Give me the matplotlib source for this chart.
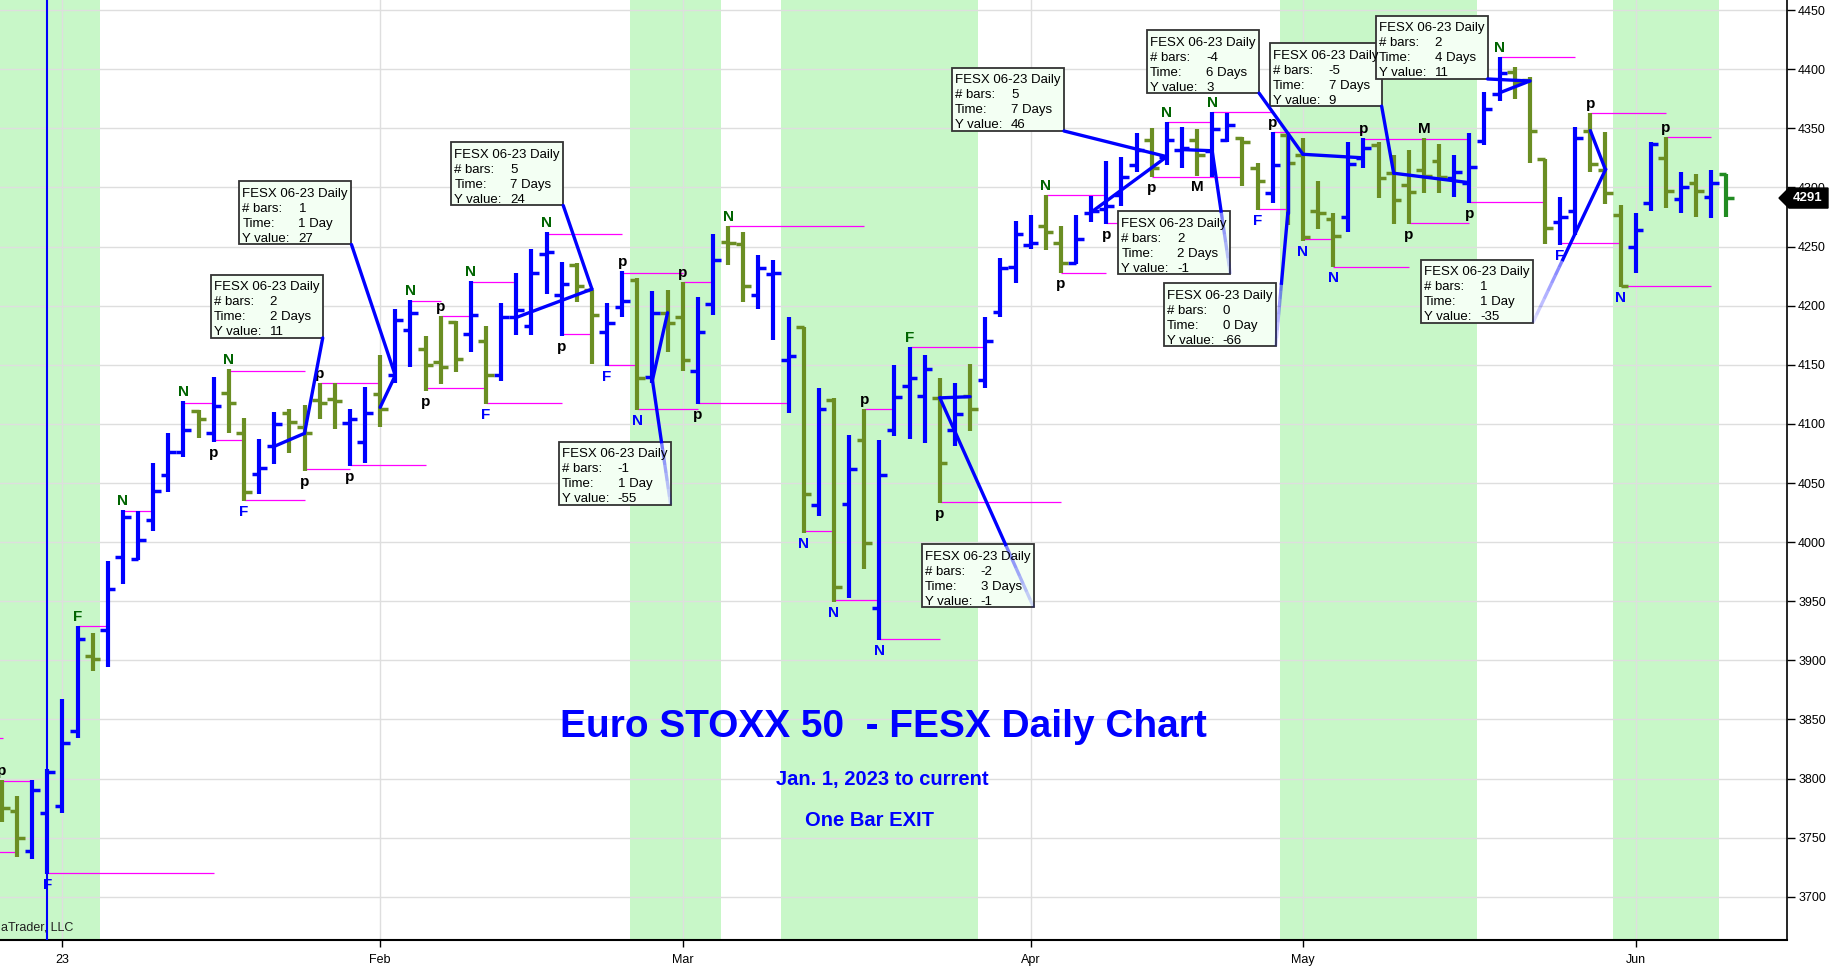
import matplotlib
matplotlib.use('Agg')
import matplotlib.pyplot as plt
import matplotlib.transforms as mtransforms
from matplotlib.patches import Rectangle, Polygon
import numpy as np

plt.rcParams['font.family'] = ['Liberation Sans', 'DejaVu Sans']

# daily OHLC, FESX 06-23 (last days of Dec 2022 through mid June 2023)
opens = [3790, 3773, 3739, 3771, 3777, 3840, 3904, 3926, 3987, 3986,
         4019, 4057, 4076, 4111, 4092, 4126, 4092, 4058, 4081, 4109,
         4097, 4120, 4121, 4101, 4085, 4125, 4141, 4179, 4163, 4152,
         4186, 4176, 4170, 4141, 4190, 4183, 4244, 4209, 4234, 4213,
         4178, 4199, 4222, 4140, 4194, 4190, 4145, 4201, 4254, 4252,
         4209, 4227, 4154, 4182, 4031, 4120, 4032, 4086, 3944, 4095,
         4132, 4124, 4122, 4095, 4124, 4137, 4195, 4233, 4251, 4267,
         4253, 4236, 4278, 4282, 4294, 4319, 4340, 4326, 4332, 4340,
         4331, 4340, 4342, 4316, 4295, 4344, 4327, 4280, 4273, 4275,
         4325, 4336, 4312, 4302, 4315, 4322, 4308, 4304, 4339, 4379,
         4398, 4391, 4324, 4271, 4280, 4348, 4315, 4277, 4250, 4287,
         4325, 4290, 4304, 4292, 4311]
highs = [3799, 3785, 3799, 3808, 3867, 3929, 3923, 3984, 4027, 4026,
         4067, 4092, 4119, 4112, 4140, 4146, 4105, 4087, 4110, 4113,
         4116, 4135, 4135, 4113, 4131, 4158, 4197, 4205, 4174, 4191,
         4187, 4221, 4183, 4202, 4228, 4248, 4262, 4237, 4236, 4213,
         4202, 4229, 4223, 4212, 4213, 4220, 4207, 4261, 4267, 4262,
         4243, 4239, 4190, 4182, 4130, 4122, 4091, 4113, 4086, 4150,
         4165, 4158, 4139, 4135, 4151, 4190, 4240, 4272, 4277, 4294,
         4267, 4277, 4293, 4322, 4326, 4346, 4350, 4355, 4351, 4349,
         4364, 4363, 4343, 4321, 4347, 4346, 4342, 4305, 4278, 4338,
         4342, 4338, 4327, 4332, 4342, 4337, 4327, 4346, 4381, 4410,
         4402, 4393, 4324, 4292, 4351, 4363, 4347, 4285, 4278, 4338,
         4343, 4313, 4311, 4315, 4311]
lows = [3763, 3734, 3732, 3719, 3771, 3834, 3891, 3894, 3965, 3985,
        4009, 4042, 4072, 4088, 4085, 4092, 4035, 4041, 4066, 4075,
        4060, 4104, 4096, 4064, 4067, 4097, 4135, 4148, 4128, 4134,
        4144, 4161, 4117, 4136, 4175, 4175, 4210, 4174, 4203, 4151,
        4149, 4190, 4112, 4135, 4161, 4145, 4117, 4192, 4234, 4203,
        4197, 4171, 4109, 4008, 4022, 3949, 3953, 3977, 3917, 4090,
        4087, 4084, 4033, 4081, 4094, 4130, 4190, 4219, 4248, 4247,
        4228, 4235, 4271, 4269, 4284, 4313, 4309, 4319, 4316, 4310,
        4309, 4338, 4301, 4281, 4287, 4268, 4255, 4265, 4233, 4262,
        4316, 4291, 4269, 4269, 4295, 4295, 4292, 4287, 4336, 4373,
        4375, 4321, 4252, 4251, 4260, 4313, 4286, 4216, 4228, 4280,
        4283, 4278, 4275, 4274, 4275]
closes = [3775, 3750, 3790, 3806, 3830, 3918, 3901, 3960, 4021, 4002,
          4043, 4076, 4095, 4104, 4115, 4118, 4042, 4063, 4100, 4102,
          4092, 4118, 4119, 4104, 4109, 4113, 4188, 4194, 4150, 4148,
          4155, 4192, 4141, 4190, 4196, 4228, 4245, 4218, 4217, 4192,
          4185, 4204, 4139, 4194, 4185, 4154, 4178, 4239, 4253, 4217,
          4232, 4228, 4157, 4041, 4113, 3962, 4062, 3999, 4057, 4123,
          4139, 4146, 4067, 4108, 4113, 4170, 4232, 4261, 4253, 4262,
          4236, 4256, 4280, 4284, 4309, 4332, 4316, 4340, 4333, 4327,
          4349, 4353, 4338, 4305, 4319, 4321, 4258, 4278, 4259, 4320,
          4333, 4308, 4289, 4296, 4310, 4309, 4313, 4317, 4366, 4397,
          4389, 4348, 4266, 4275, 4342, 4320, 4295, 4217, 4264, 4337,
          4297, 4300, 4297, 4304, 4291]

month_pos = [4, 25, 45, 68, 86, 108]
month_labels = ['23', 'Feb', 'Mar', 'Apr', 'May', 'Jun']

shade_from = [-1, 41.5, 51.5, 84.5, 106.5]
shade_to = [6.5, 47.5, 64.5, 97.5, 113.5]

# magenta pivot levels: start bar, end bar, price
level_start = [-1, 0, -1, 3, 5, 8, 12, 14, 15, 16, 20, 21, 23, 27, 28, 29, 31,
               32, 36, 37, 40, 41, 42, 45, 46, 48, 53, 55, 57, 58, 60, 62, 69,
               70, 73, 76, 77, 80, 83, 84, 86, 88, 90, 93, 97, 99, 103, 105,
               107, 110]
level_end = [0.1, 2, 1, 14, 7, 10, 14, 16, 20, 20, 23, 25, 28, 29, 32, 31, 34,
             37, 41, 39, 42, 45, 46, 47, 52, 57, 55, 58, 59, 62, 65, 70, 73,
             73, 76, 82, 80, 84, 85, 90, 88, 93, 97, 97, 102, 104, 107, 110,
             113, 113]
level_price = [3834, 3798, 3738, 3720, 3929, 4026, 4118, 4086, 4145, 4036,
               4062, 4135, 4065, 4204, 4130, 4191, 4220, 4118, 4261, 4176,
               4150, 4228, 4113, 4220, 4118, 4267, 4009, 3951, 4113, 3918,
               4165, 4034, 4294, 4228, 4270, 4309, 4355, 4364, 4282, 4347,
               4256, 4233, 4341, 4270, 4288, 4410, 4253, 4363, 4217, 4343]

# bar letters: bar index, letter, colour key, above/below
mark_idx = [0, 3, 5, 8, 12, 14, 15, 16, 20, 21, 23, 27, 28, 29, 31, 32, 36,
            37, 40, 41, 42, 45, 46, 48, 53, 55, 57, 58, 60, 62, 69, 70, 73,
            76, 77, 79, 80, 83, 84, 86, 88, 90, 93, 94, 97, 99, 103, 105,
            107, 110]
mark_text = ['p', 'F', 'F', 'N', 'N', 'p', 'N', 'F', 'p', 'p', 'p', 'N', 'p',
             'p', 'N', 'F', 'N', 'p', 'F', 'p', 'N', 'p', 'p', 'N', 'N', 'N',
             'p', 'N', 'F', 'p', 'N', 'p', 'p', 'p', 'N', 'M', 'N', 'F', 'p',
             'N', 'N', 'p', 'p', 'M', 'p', 'N', 'F', 'p', 'N', 'p']
mark_col = ['k', 'b', 'g', 'g', 'g', 'k', 'g', 'b', 'k', 'k', 'k', 'g', 'k',
            'k', 'g', 'b', 'g', 'k', 'b', 'k', 'b', 'k', 'k', 'g', 'b', 'b',
            'k', 'b', 'g', 'k', 'g', 'k', 'k', 'k', 'g', 'k', 'g', 'b', 'k',
            'b', 'b', 'k', 'k', 'k', 'k', 'g', 'b', 'k', 'b', 'k']
mark_up = [1, 0, 1, 1, 1, 0, 1, 0, 0, 1, 0, 1, 0, 1, 1, 0, 1, 0, 0, 1, 0, 1,
           0, 1, 0, 0, 1, 0, 1, 0, 1, 0, 0, 0, 1, 0, 1, 0, 1, 0, 0, 1, 0, 1,
           0, 1, 0, 1, 0, 1]

# measurement tool readouts
ann_from = [(18, 4081), (25, 4114), (34, 4190), (44, 4194), (64, 4123),
            (72, 4279), (78, 4332), (85, 4344), (90, 4325), (97, 4304),
            (99, 4380), (105, 4348)]
ann_to = [(20, 4092), (26, 4141), (39, 4214), (43, 4137), (62, 4122),
          (77, 4326), (80, 4331), (85, 4278), (86, 4328), (92, 4312),
          (101, 4390), (106, 4315)]
ann_bars = ['2', '1', '5', '-1', '-2', '5', '2', '0', '-4', '-5', '2', '1']
ann_time = ['2 Days', '1 Day', '7 Days', '1 Day', '3 Days', '7 Days',
            '2 Days', '0 Day', '6 Days', '7 Days', '4 Days', '1 Day']
ann_yval = ['11', '27', '24', '-55', '-1', '46', '-1', '-66', '3', '9',
            '11', '-35']
box_topleft = [(13.8, 4226), (15.7, 4305), (29.7, 4338), (36.8, 4085),
               (60.8, 3998), (62.8, 4401), (73.8, 4280), (76.8, 4219),
               (75.7, 4433), (83.8, 4422), (90.8, 4445), (93.8, 4239)]

BLUE = '#0000FF'
OLIVE = '#6B8E23'
colmap = {'k': 'black', 'b': BLUE, 'g': '#006400'}

fig = plt.figure(figsize=(18.31, 9.72), dpi=100)
ax = fig.add_axes([0, 32 / 972, 1787 / 1831, 940 / 972])
ax.set_xlim(-0.13, 118.0)
ax.set_ylim(3663.5, 4458.5)

px_x = 1787 / (118.0 + 0.13)      # pixels per bar
px_y = 940 / (4458.5 - 3663.5)    # pixels per point
box_w = 112 / px_x
box_h = 63 / px_y

for a, b in zip(shade_from, shade_to):
    ax.axvspan(a, b, color='#C8F7C8', lw=0, zorder=0)

ax.set_yticks(np.arange(3700, 4451, 50))
ax.set_xticks(month_pos)
ax.set_xticklabels(month_labels)
ax.grid(True, color='#DEDEDE', lw=1.0, zorder=1)
ax.set_axisbelow(True)

for s, e, p in zip(level_start, level_end, level_price):
    ax.plot([s, e], [p, p], color='#FF00FF', lw=0.9, zorder=3,
            solid_capstyle='butt')

idx = np.arange(len(opens))
cols = [BLUE if c > o else OLIVE for o, c in zip(opens, closes)]
cols[-1] = '#228B22'
o = np.array(opens)
c = np.array(closes)
ax.vlines(idx, lows, highs, colors=cols, lw=3.0, capstyle='butt', zorder=4)
ax.hlines(o, idx - 0.5, idx, colors=cols, lw=2.5, capstyle='butt', zorder=4)
ax.hlines(c, idx, idx + 0.5, colors=cols, lw=2.5, capstyle='butt', zorder=4)

ax.axvline(3, color=BLUE, lw=1.5, zorder=4.5)

for i, t, k, up in zip(mark_idx, mark_text, mark_col, mark_up):
    if up:
        ax.annotate(t, (i, highs[i]), xytext=(0, 5), textcoords='offset pixels',
                    ha='center', va='baseline', fontsize=11, fontweight='bold',
                    color=colmap[k], zorder=5)
    else:
        ax.annotate(t, (i, lows[i]), xytext=(0, -4), textcoords='offset pixels',
                    ha='center', va='top', fontsize=11, fontweight='bold',
                    color=colmap[k], zorder=5)

for n in range(len(ann_from)):
    (x0, y0), (x1, y1) = ann_from[n], ann_to[n]
    bx, by = box_topleft[n]
    cx, cy = bx + box_w, by - box_h
    ax.plot([x0, x1], [y0, y1], color=BLUE, lw=2.4, zorder=7,
            solid_capstyle='round')
    ax.add_patch(Rectangle((bx, cy), box_w, box_h, facecolor='#F3FFF3',
                           edgecolor='#333333', lw=1.3, zorder=6))
    if cy < y1 and by < y1:
        # leader runs down into the box: fade the part inside it
        t = (y1 - by) / (y1 - cy)
        mx, my = x1 + t * (cx - x1), y1 + t * (cy - y1)
        ax.plot([x1, mx], [y1, my], color=BLUE, lw=2.4, zorder=7)
        steps = 8
        for k in range(steps):
            f0, f1 = k / steps, (k + 1) / steps
            ax.plot([mx + f0 * (cx - mx), mx + f1 * (cx - mx)],
                    [my + f0 * (cy - my), my + f1 * (cy - my)],
                    color=BLUE, lw=2.4, alpha=0.55 - 0.4 * f1, zorder=7,
                    solid_capstyle='butt')
    else:
        ax.plot([x1, cx], [y1, cy], color=BLUE, lw=2.4, zorder=7,
                solid_capstyle='round')
    rows = [('FESX 06-23 Daily', ''), ('# bars:', ann_bars[n]),
            ('Time:', ann_time[n]), ('Y value:', ann_yval[n])]
    for r, (lab, val) in enumerate(rows):
        ax.annotate(lab, (bx, by), xytext=(3, -15.5 - 15 * r),
                    textcoords='offset pixels', ha='left', va='baseline',
                    fontsize=9.5, color='black', zorder=8)
        if val:
            ax.annotate(val, (bx, by), xytext=(59, -15.5 - 15 * r),
                        textcoords='offset pixels', ha='left',
                        va='baseline', fontsize=9.5, color='black', zorder=8)

for side in ['top', 'left']:
    ax.spines[side].set_visible(False)
ax.spines['right'].set_linewidth(1.2)
ax.spines['bottom'].set_linewidth(1.5)
ax.yaxis.tick_right()
ax.tick_params(axis='y', length=6, width=1, labelsize=9, pad=2,
               colors='black')
ax.tick_params(axis='x', length=5, width=1, labelsize=9, pad=5)

# last price tag
trans = mtransforms.blended_transform_factory(ax.transAxes, ax.transData)
last = closes[-1]
hh = 10 / px_y
tag = Polygon([(1 - 8 / 1787, last), (1 + 2 / 1787, last + hh),
               (1 + 41 / 1787, last + hh), (1 + 41 / 1787, last - hh),
               (1 + 2 / 1787, last - hh)], closed=True, transform=trans,
              facecolor='black', edgecolor='black', clip_on=False, zorder=10)
ax.add_patch(tag)
ax.text(1 + 21 / 1787, last, str(last), transform=trans, ha='center',
        va='center', color='white', fontsize=9.5, fontweight='bold',
        zorder=11, clip_on=False)

fig.text(883 / 1831, 1 - 727 / 972, 'Euro STOXX 50  - FESX Daily Chart',
         ha='center', va='center', color=BLUE, fontsize=28, fontweight='bold')
fig.text(882 / 1831, 1 - 779 / 972, 'Jan. 1, 2023 to current', ha='center',
         va='center', color=BLUE, fontsize=14.5, fontweight='bold')
fig.text(870 / 1831, 1 - 820 / 972, 'One Bar EXIT', ha='center', va='center',
         color=BLUE, fontsize=14.5, fontweight='bold')
fig.text(1 / 1831, 1 - 927 / 972, 'aTrader, LLC', ha='left', va='center',
         color='#202020', fontsize=9)

fig.savefig('out.png', dpi=100)
